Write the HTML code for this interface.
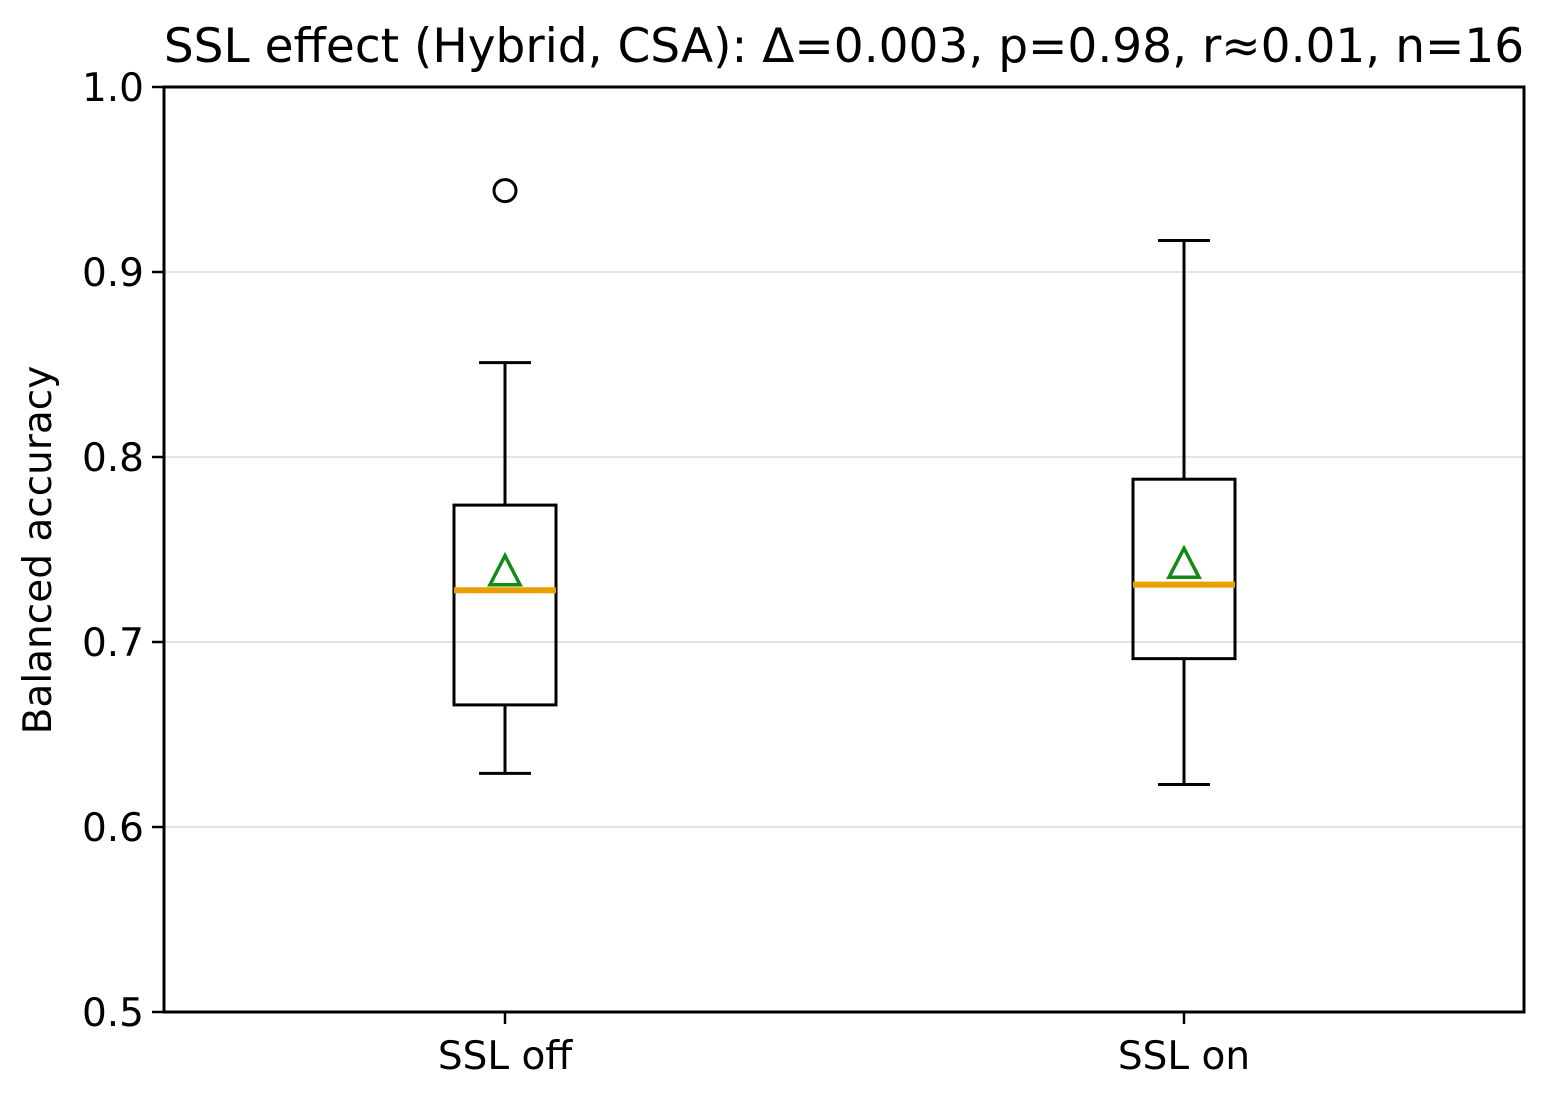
<!DOCTYPE html>
<html><head><meta charset="utf-8"><style>
html,body{margin:0;padding:0;background:#fff;}
svg text{font-family:"DejaVu Sans","Liberation Sans",sans-serif;fill:#000;}
</style></head><body>
<svg id="chart" width="1542" height="1088" xmlns="http://www.w3.org/2000/svg">
<text x="844" y="62" font-size="47" text-anchor="middle">SSL effect (Hybrid, CSA): Δ=0.003, p=0.98, r≈0.01, n=16</text>
<text transform="translate(51,550) rotate(-90)" font-size="39" text-anchor="middle">Balanced accuracy</text>
<g id="grid"></g>
<g id="marks"></g>
<rect x="164" y="87" width="1360" height="925" fill="none" stroke="#000" stroke-width="3"/>
<g id="axes"></g>
</svg>
<script>
const categories = ["SSL off", "SSL on"];
const q1 = [0.666, 0.691];
const q3 = [0.774, 0.788];
const medians = [0.728, 0.731];
const means = [0.738, 0.742];
const whiskerLow = [0.629, 0.623];
const whiskerHigh = [0.851, 0.917];
const outliers = [[0.944], []];
const yTicks = [0.5, 0.6, 0.7, 0.8, 0.9, 1.0];
const yTickLabels = ["0.5", "0.6", "0.7", "0.8", "0.9", "1.0"];

const NS = "http://www.w3.org/2000/svg";
const L = 164, R = 1524, T = 87, B = 1012;
const yMin = 0.5, yMax = 1.0;
function y(v){ return B - (v - yMin) / (yMax - yMin) * (B - T); }
function x(i){ return 505 + i * 679; }
function mk(tag, attrs, parent){ const e = document.createElementNS(NS, tag); for (const k in attrs) e.setAttribute(k, attrs[k]); parent.appendChild(e); return e; }
const grid = document.getElementById('grid'), marks = document.getElementById('marks'), axes = document.getElementById('axes');

yTicks.forEach((t, i) => {
  if (t > yMin && t < yMax) {
    const g = mk('line', {x1: L, x2: R, y1: y(t), y2: y(t), stroke: '#e3e3e3', 'stroke-width': 2}, grid);
    
    
  }
  const tk = mk('line', {x1: L - 12, x2: L, y1: y(t), y2: y(t), stroke: '#000', 'stroke-width': 2.5}, axes);
  
  
  const lb = mk('text', {x: L - 20, y: y(t) + 14, 'font-size': 39, 'text-anchor': 'end'}, axes);
  lb.textContent = yTickLabels[i];
  
  
});

categories.forEach((c, i) => {
  const cx = x(i), hw = 51, cw = 26;
  const tk = mk('line', {x1: cx, x2: cx, y1: B, y2: B + 12, stroke: '#000', 'stroke-width': 2.5}, axes);
  
  
  const lb = mk('text', {x: cx, y: B + 57, 'font-size': 39, 'text-anchor': 'middle'}, axes);
  lb.textContent = c;
  
  

  const g = mk('g', {}, marks);
  
  
  const st = {stroke: '#000', 'stroke-width': 3, fill: 'none'};
  const w1 = mk('line', Object.assign({x1: cx, x2: cx, y1: y(q3[i]), y2: y(whiskerHigh[i])}, st), g);
  
  
  const w2 = mk('line', Object.assign({x1: cx, x2: cx, y1: y(q1[i]), y2: y(whiskerLow[i])}, st), g);
  
  
  const c1 = mk('line', Object.assign({x1: cx - cw, x2: cx + cw, y1: y(whiskerHigh[i]), y2: y(whiskerHigh[i])}, st), g);
  
  
  const c2 = mk('line', Object.assign({x1: cx - cw, x2: cx + cw, y1: y(whiskerLow[i]), y2: y(whiskerLow[i])}, st), g);
  
  
  const bx = mk('rect', Object.assign({x: cx - hw, y: y(q3[i]), width: 2 * hw, height: y(q1[i]) - y(q3[i])}, st), g);
  
  
  const md = mk('line', {x1: cx - hw, x2: cx + hw, y1: y(medians[i]), y2: y(medians[i]), stroke: '#e8a000', 'stroke-width': 6}, g);
  
  
  const my = y(means[i]);
  const tr = mk('polygon', {points: `${cx},${my - 16} ${cx - 15},${my + 13} ${cx + 15},${my + 13}`, fill: 'none', stroke: '#138a13', 'stroke-width': 3.5}, g);
  
  
  outliers[i].forEach(o => {
    const oc = mk('circle', {cx: cx, cy: y(o), r: 11, fill: 'none', stroke: '#000', 'stroke-width': 3}, g);
    
    
  });
});
</script>
</body></html>
